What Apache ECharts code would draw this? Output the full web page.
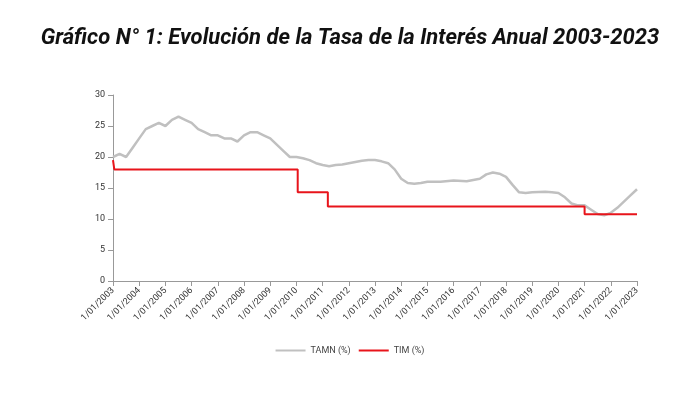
<!DOCTYPE html>
<html><head><meta charset="utf-8">
<script src="https://cdn.jsdelivr.net/npm/echarts@6/dist/echarts.min.js"></script>
<style>html,body{margin:0;background:#fff}#c{width:700px;height:400px}</style>
</head><body><div id="c"></div>
<script>
const tamnYears=[2003,2003.25,2003.5,2003.75,2004,2004.25,2004.5,2004.75,2005,2005.25,2005.5,2005.75,2006,2006.25,2006.5,2006.75,2007,2007.25,2007.5,2007.75,2008,2008.25,2008.5,2008.75,2009,2009.25,2009.5,2009.75,2010,2010.25,2010.5,2010.75,2011,2011.25,2011.5,2011.75,2012,2012.25,2012.5,2012.75,2013,2013.25,2013.5,2013.75,2014,2014.25,2014.5,2014.75,2015,2015.5,2016,2016.5,2017,2017.25,2017.5,2017.75,2018,2018.25,2018.5,2018.75,2019,2019.5,2019.75,2020,2020.25,2020.5,2020.75,2021,2021.25,2021.5,2021.75,2022,2022.25,2022.5,2022.75,2023];
const tamnValues=[20,20.5,20,21.5,23,24.5,25,25.5,25,26,26.5,26,25.5,24.5,24,23.5,23.5,23,23,22.5,23.5,24,24,23.5,23,22,21,20,20,19.8,19.5,19,18.7,18.5,18.7,18.8,19,19.2,19.4,19.5,19.5,19.3,19,18,16.5,15.8,15.7,15.8,16,16,16.2,16.1,16.5,17.2,17.5,17.3,16.8,15.5,14.3,14.2,14.3,14.4,14.3,14.2,13.5,12.5,12.2,12.2,11.5,10.8,10.6,11,11.8,12.8,13.8,14.8];
const timYears=[2003,2003.05,2010.05,2011.2,2021.0,2023];
const timValues=[19.5,18,14.3,12,10.75,10.75];
const yTicks=[0,5,10,15,20,25,30];
const chart=echarts.init(document.getElementById('c'));
chart.setOption({
 animation:false,
 title:{text:'Gráfico N° 1: Evolución de la Tasa de la Interés Anual 2003-2023',left:'center',top:22,
  textStyle:{fontFamily:'Roboto',fontWeight:'bold',fontStyle:'italic',fontSize:22,color:'#111'}},
 legend:{bottom:40,itemWidth:30,itemHeight:2,icon:'rect',textStyle:{fontSize:9,color:'#444',fontFamily:'Roboto'},
  data:['TAMN (%)','TIM (%)']},
 grid:{left:113,right:63,top:95,bottom:119},
 xAxis:{type:'value',min:2003,max:2023,interval:1,splitLine:{show:false},
  axisLine:{lineStyle:{color:'#999'}},axisTick:{show:true,lineStyle:{color:'#999'}},
  axisLabel:{rotate:45,fontSize:9,color:'#333',fontFamily:'Roboto',formatter:v=>'1/01/'+v}},
 yAxis:{type:'value',min:yTicks[0],max:yTicks[yTicks.length-1],interval:5,splitLine:{show:false},
  axisLine:{show:true,lineStyle:{color:'#999'}},axisTick:{show:true,lineStyle:{color:'#999'}},
  axisLabel:{fontSize:9,color:'#333',fontFamily:'Roboto'}},
 series:[
  {name:'TAMN (%)',type:'line',showSymbol:false,data:tamnYears.map((y,i)=>[y,tamnValues[i]]),
   lineStyle:{color:'#c0c0c0',width:2.5},itemStyle:{color:'#c0c0c0'}},
  {name:'TIM (%)',type:'line',step:'end',showSymbol:false,data:timYears.map((y,i)=>[y,timValues[i]]),
   lineStyle:{color:'#e8141b',width:2},itemStyle:{color:'#e8141b'}}
 ]
});
</script></body></html>
